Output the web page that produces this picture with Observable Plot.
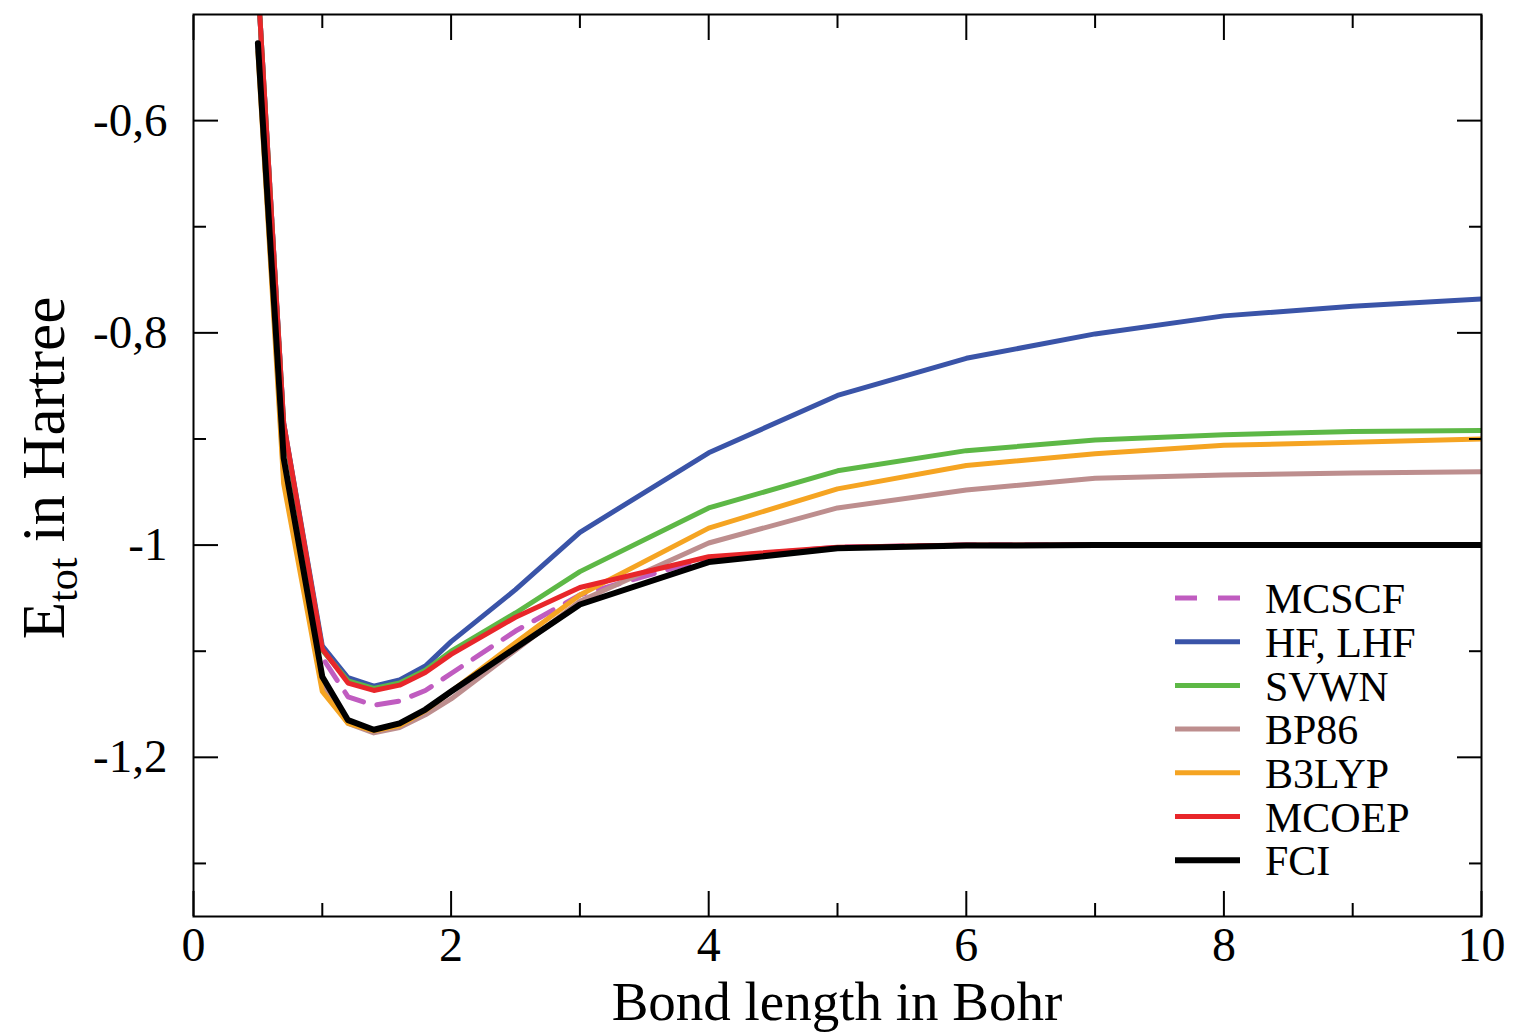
<!DOCTYPE html>
<html>
<head>
<meta charset="utf-8">
<script src="https://cdn.jsdelivr.net/npm/d3@7"></script>
<script src="https://cdn.jsdelivr.net/npm/@observablehq/plot@0.6"></script>
<style>
  html, body { margin: 0; padding: 0; background: #fff; }
  #chart { position: relative; width: 1516px; height: 1035px; }
</style>
</head>
<body>
<div id="chart"></div>
<script>
// ---- data ----
const bond  = [0.5, 0.7, 1.0, 1.2, 1.4, 1.6, 1.8, 2.0, 2.5, 3, 4, 5, 6, 7, 8, 9, 10];
const mcscf = [-0.47, -0.885, -1.106, -1.143, -1.151, -1.147, -1.137, -1.121, -1.081, -1.047, -1.012, -1.002, -1.0, -1.0, -1.0, -1.0, -1.0];
const hf    = [-0.47, -0.885, -1.095, -1.125, -1.133, -1.127, -1.114, -1.091, -1.042, -0.988, -0.913, -0.859, -0.824, -0.801, -0.784, -0.775, -0.768];
const svwn  = [-0.47, -0.887, -1.099, -1.128, -1.135, -1.130, -1.118, -1.100, -1.064, -1.025, -0.965, -0.930, -0.911, -0.901, -0.896, -0.893, -0.892];
const bp86  = [-0.53, -0.935, -1.132, -1.168, -1.177, -1.172, -1.160, -1.145, -1.099, -1.053, -0.998, -0.965, -0.948, -0.937, -0.934, -0.932, -0.931];
const b3lyp = [-0.535, -0.942, -1.138, -1.168, -1.175, -1.170, -1.156, -1.138, -1.092, -1.047, -0.984, -0.947, -0.925, -0.914, -0.906, -0.903, -0.900];
const mcoep = [-0.47, -0.885, -1.098, -1.130, -1.137, -1.132, -1.120, -1.103, -1.068, -1.040, -1.011, -1.002, -1.0, -1.0, -1.0, -1.0, -1.0];
const fci   = [-0.527, -0.918, -1.124, -1.165, -1.174, -1.168, -1.155, -1.138, -1.097, -1.056, -1.016, -1.003, -1.0005, -1.0, -1.0, -1.0, -1.0];

const seriesNames  = ["MCSCF", "HF, LHF", "SVWN", "BP86", "B3LYP", "MCOEP", "FCI"];
const seriesValues = [mcscf, hf, svwn, bp86, b3lyp, mcoep, fci];
const seriesColors = ["#c05cc0", "#3a54a8", "#5db846", "#bd8e8e", "#f5a422", "#e8262a", "#000000"];
const seriesDash   = ["22,14", null, null, null, null, null, null];
const seriesWidth  = [5, 5, 5, 5, 5, 5, 6];

const xMajor = [0, 2, 4, 6, 8, 10];
const xMinor = [1, 3, 5, 7, 9];
const yMajor = [-0.6, -0.8, -1.0, -1.2];
const yMinor = [-0.7, -0.9, -1.1, -1.3];
const yTickLabels = ["-0,6", "-0,8", "-1", "-1,2"];

const xTitle = "Bond length in Bohr";

// ---- build ----
const lineMarks = seriesNames.map((name, i) =>
  Plot.line(bond.map((b, j) => ({x: b, y: seriesValues[i][j]})), {
    x: "x", y: "y",
    stroke: seriesColors[i],
    strokeWidth: seriesWidth[i],
    strokeDasharray: seriesDash[i] ?? undefined,
    strokeLinejoin: "round",
    clip: true
  })
);

const font = "'Liberation Serif', 'DejaVu Serif', serif";
const blank = () => "";

const plot = Plot.plot({
  width: 1516,
  height: 1035,
  marginLeft: 193,
  marginRight: 35,
  marginTop: 14,
  marginBottom: 119,
  style: {fontFamily: font, fontSize: "47px", color: "#000", background: "#fff"},
  x: {domain: [0, 10]},
  y: {domain: [-1.35, -0.5]},
  marks: [
    ...lineMarks,
    // tick labels
    Plot.axisX(xMajor, {anchor: "bottom", tickSize: 0, tickPadding: 10, label: null, fontSize: 48, tickFormat: d => String(d)}),
    Plot.axisY(yMajor, {anchor: "left", tickSize: 0, tickPadding: 26, label: null, fontSize: 47,
      tickFormat: d => yTickLabels[yMajor.indexOf(d)]}),
    // inward ticks on all sides
    Plot.axisX(xMajor, {anchor: "bottom", tickSize: -25, tickFormat: blank, label: null, strokeWidth: 2}),
    Plot.axisX(xMinor, {anchor: "bottom", tickSize: -13, tickFormat: blank, label: null, strokeWidth: 2}),
    Plot.axisX(xMajor, {anchor: "top", tickSize: -25, tickFormat: blank, label: null, strokeWidth: 2}),
    Plot.axisX(xMinor, {anchor: "top", tickSize: -13, tickFormat: blank, label: null, strokeWidth: 2}),
    Plot.axisY(yMajor, {anchor: "left", tickSize: -25, tickFormat: blank, label: null, strokeWidth: 2}),
    Plot.axisY(yMinor, {anchor: "left", tickSize: -13, tickFormat: blank, label: null, strokeWidth: 2}),
    Plot.axisY(yMajor, {anchor: "right", tickSize: -25, tickFormat: blank, label: null, strokeWidth: 2}),
    Plot.axisY(yMinor, {anchor: "right", tickSize: -13, tickFormat: blank, label: null, strokeWidth: 2}),
    Plot.frame({stroke: "#000", strokeWidth: 2})
  ]
});

document.getElementById("chart").appendChild(plot);

// ---- titles and legend ----
const svg = d3.select(plot);

// remove the empty label texts of the tick-only axes
svg.selectAll("text").filter(function () { return this.textContent.trim() === ""; }).remove();

svg.append("text")
  .attr("x", 193 + 1288 / 2)
  .attr("y", 1020)
  .attr("text-anchor", "middle")
  .style("font-family", font)
  .style("font-size", "55px")
  .attr("fill", "#000")
  .text(xTitle);

const yl = svg.append("text")
  .attr("transform", "translate(64,468) rotate(-90)")
  .attr("text-anchor", "middle")
  .style("font-family", font)
  .style("font-size", "61px")
  .attr("fill", "#000");
yl.append("tspan").text("E");
yl.append("tspan").attr("dy", 13).style("font-size", "42px").text("tot");
yl.append("tspan").attr("dy", -13).text(" in Hartree");

const lg = svg.append("g").attr("text-anchor", "start");
seriesNames.forEach((name, i) => {
  const yy = 598 + i * 43.7;
  lg.append("line")
    .attr("x1", 1175).attr("x2", 1240)
    .attr("y1", yy).attr("y2", yy)
    .attr("stroke", seriesColors[i])
    .attr("stroke-width", seriesWidth[i])
    .attr("stroke-dasharray", seriesDash[i] ? "22,21" : null);
  lg.append("text")
    .attr("x", 1265).attr("y", yy)
    .attr("dy", "0.36em")
    .attr("text-anchor", "start")
    .style("font-family", font)
    .style("font-size", "42px")
    .attr("fill", "#000")
    .text(name);
});
</script>
</body>
</html>
